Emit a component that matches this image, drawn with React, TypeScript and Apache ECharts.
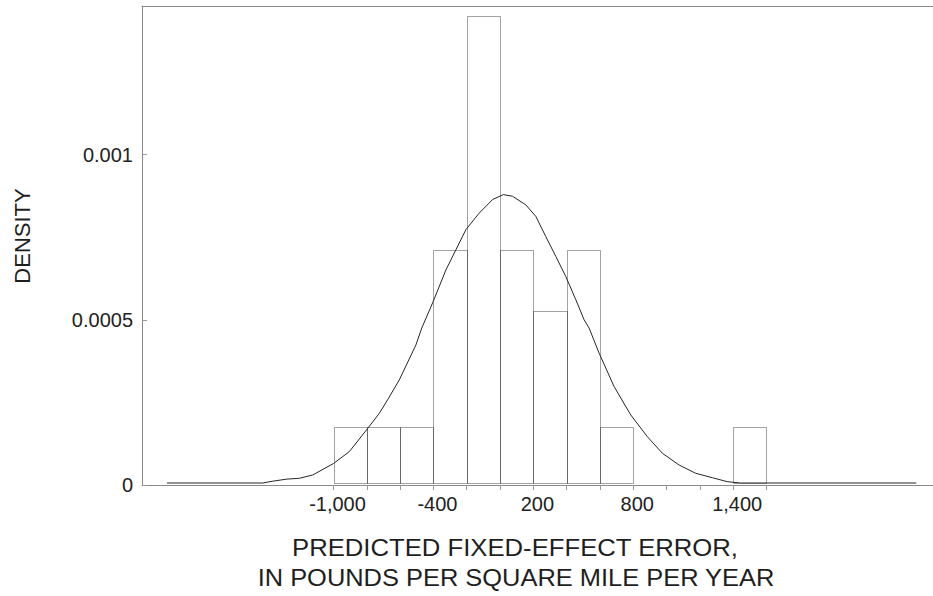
import React, { useEffect, useRef } from "react";
import * as echarts from "echarts";

// Histogram bins (value axis units) and densities
const binLeft = [-1000, -800, -600, -400, -200, 0, 200, 400, 600, 1400];
const binRight = [-800, -600, -400, -200, 0, 200, 400, 600, 800, 1600];
const binDensity = [0.000175, 0.000175, 0.000175, 0.00071, 0.00142, 0.00071, 0.000527, 0.00071, 0.000175, 0.000175];

// Fitted density curve
const curveX = [-2000, -1425, -1365, -1280, -1205, -1125, -1000, -905, -795, -725, -675, -605, -505, -470, -405, -325, -265, -205, -125, -45, 20, 75, 155, 215, 275, 335, 395, 455, 505, 535, 595, 685, 785, 885, 975, 1075, 1175, 1275, 1365, 1445, 2500];
const curveY = [0, 0, 0.0000055, 0.0000118, 0.0000142, 0.0000242, 0.000059, 0.000095, 0.000165, 0.000211, 0.000252, 0.000312, 0.000418, 0.000469, 0.000545, 0.000645, 0.000706, 0.000767, 0.000817, 0.000858, 0.000873, 0.000868, 0.000842, 0.000807, 0.000746, 0.000686, 0.000625, 0.000555, 0.000494, 0.000469, 0.000393, 0.000292, 0.000206, 0.00014, 0.00009, 0.0000545, 0.0000294, 0.000016, 0.000004, 0, 0];

// Axes
const xMin = -2150;
const xMax = 2600;
const xTickValues = [-1000, -800, -600, -400, -200, 0, 200, 400, 600, 800, 1000, 1200, 1400, 1600];
const xLabelValues = [-1000, -400, 200, 800, 1400];
const yMax = 0.00145;
const yTickValues = [0, 0.0005, 0.001];

const xTitle1 = "PREDICTED FIXED-EFFECT ERROR,";
const xTitle2 = "IN POUNDS PER SQUARE MILE PER YEAR";
const yTitle = "DENSITY";

export default function App() {
  const ref = useRef<HTMLDivElement>(null);
  useEffect(() => {
    const chart = echarts.init(ref.current as HTMLDivElement, null, { renderer: "svg" });
    const font = "'Liberation Sans', Arial, Helvetica, sans-serif";
    const lift = 2;
    const axisColor = "#8a8a8a";
    chart.setOption({
      animation: false,
      backgroundColor: "#ffffff",
      grid: { left: 142, right: 0, top: 6, bottom: 111, containLabel: false },
      xAxis: [
        {
          type: "value",
          min: xMin,
          max: xMax,
          position: "bottom",
          axisLine: { show: true, onZero: false, lineStyle: { color: axisColor, width: 1 } },
          axisTick: { show: true, inside: false, length: 5, customValues: xTickValues, lineStyle: { color: "#999" } },
          axisLabel: {
            customValues: xLabelValues,
            formatter: (v: number) => Number(v).toLocaleString("en-US"),
            fontSize: 20,
            color: "#222",
            fontFamily: font,
            margin: 9,
            padding: [0, 0, 0, 8],
          },
          splitLine: { show: false },
        },
        {
          type: "value",
          min: xMin,
          max: xMax,
          position: "top",
          axisLine: { show: true, onZero: false, lineStyle: { color: axisColor, width: 1 } },
          axisTick: { show: false },
          axisLabel: { show: false },
          splitLine: { show: false },
        },
      ],
      yAxis: {
        type: "value",
        min: 0,
        max: yMax,
        axisLine: { show: true, onZero: false, lineStyle: { color: axisColor, width: 1 } },
        axisTick: { show: true, inside: true, length: 5, customValues: yTickValues, lineStyle: { color: "#999" } },
        axisLabel: {
          customValues: yTickValues,
          formatter: (v: number) => String(v),
          fontSize: 20,
          color: "#222",
          fontFamily: font,
          margin: 9,
        },
        splitLine: { show: false },
      },
      series: [
        {
          type: "custom",
          xAxisIndex: 0,
          yAxisIndex: 0,
          encode: { x: [0, 1], y: 2 },
          data: binLeft.map((l, i) => [l, binRight[i], binDensity[i]]),
          renderItem: (params: any, api: any) => {
            const pTop = api.coord([api.value(0), api.value(2)]);
            const pBot = api.coord([api.value(1), 0]);
            const x0 = Math.round(pTop[0]) + 0.5;
            const x1 = Math.round(pBot[0]) + 0.5;
            const y0 = Math.round(pTop[1]) + 0.5;
            const y1 = Math.round(pBot[1]) - lift + 0.5;
            return {
              type: "rect",
              shape: { x: x0, y: y0, width: x1 - x0, height: y1 - y0 },
              style: { fill: "none", stroke: "rgba(0,0,0,0.36)", lineWidth: 1 },
            };
          },
          z: 2,
        },
        {
          type: "custom",
          xAxisIndex: 0,
          yAxisIndex: 0,
          encode: { x: 0, y: 1 },
          data: curveX.map((x, i) => [x, curveY[i]]),
          renderItem: (params: any, api: any) => {
            if (params.dataIndex !== 0) return null;
            const pts = curveX.map((x, i) => {
              const p = api.coord([x, curveY[i]]);
              return [p[0], p[1] - lift];
            });
            return {
              type: "polyline",
              shape: { points: pts },
              style: { fill: "none", stroke: "#262626", lineWidth: 1 },
            };
          },
          z: 3,
        },
      ],
      graphic: [
        {
          type: "text",
          x: 515,
          y: 548,
          scaleX: 1.07,
          style: { text: xTitle1, fontSize: 24, fontFamily: font, fill: "#1e1e1e", align: "center", verticalAlign: "middle" },
        },
        {
          type: "text",
          x: 516,
          y: 578,
          scaleX: 1.06,
          style: { text: xTitle2, fontSize: 24, fontFamily: font, fill: "#1e1e1e", align: "center", verticalAlign: "middle" },
        },
        {
          type: "text",
          x: 22,
          y: 236,
          rotation: Math.PI / 2,
          style: { text: yTitle, fontSize: 22, fontFamily: font, fill: "#1e1e1e", align: "center", verticalAlign: "middle" },
        },
      ],
    });
    return () => chart.dispose();
  }, []);
  return <div ref={ref} style={{ position: "fixed", left: 0, top: 0, width: 933, height: 596 }} />;
}
